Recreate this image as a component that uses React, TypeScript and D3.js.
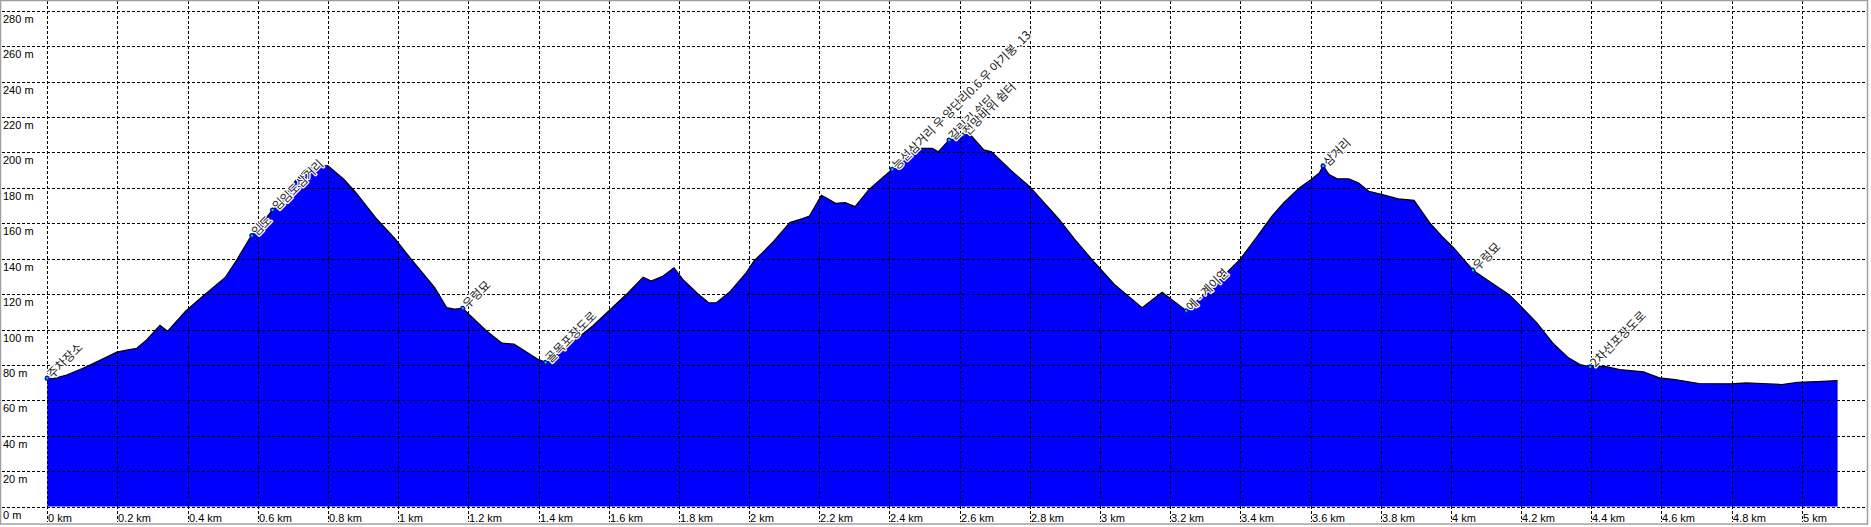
import React from "react";
import * as d3 from "d3";

const distanceKm = [
  0.0, 0.017, 0.055, 0.1, 0.141, 0.198, 0.226, 0.255, 0.283, 0.321, 0.343, 0.394, 0.439, 0.507, 0.541,
  0.575, 0.583, 0.642, 0.664, 0.699, 0.732, 0.755, 0.777, 0.8, 0.845, 0.879, 0.935, 0.992, 1.037, 1.104,
  1.138, 1.16, 1.184, 1.251, 1.296, 1.33, 1.397, 1.42, 1.442, 1.555, 1.656, 1.698, 1.721, 1.755, 1.786,
  1.811, 1.856, 1.885, 1.907, 1.947, 1.992, 2.014, 2.071, 2.116, 2.15, 2.172, 2.206, 2.223, 2.246, 2.274,
  2.302, 2.342, 2.408, 2.454, 2.488, 2.522, 2.539, 2.57, 2.609, 2.629, 2.669, 2.691, 2.748, 2.799, 2.883,
  2.928, 2.985, 3.041, 3.12, 3.177, 3.246, 3.312, 3.4, 3.445, 3.49, 3.523, 3.568, 3.602, 3.625, 3.636,
  3.653, 3.676, 3.709, 3.737, 3.766, 3.805, 3.85, 3.895, 3.94, 3.974, 4.008, 4.063, 4.109, 4.166, 4.199,
  4.245, 4.29, 4.335, 4.368, 4.397, 4.436, 4.481, 4.549, 4.594, 4.639, 4.707, 4.797, 4.842, 4.887, 4.943,
  4.988, 5.044, 5.102,
];
const elevationM = [
  72.5, 72.3, 74.3, 78.0, 81.8, 87.2, 88.4, 89.4, 94.1, 102.3, 99.0, 110.3, 118.1, 129.4, 139.7,
  151.0, 153.0, 167.5, 171.5, 182.1, 189.6, 192.5, 192.8, 192.5, 184.9, 177.4, 163.3, 151.0, 139.7, 123.7,
  112.4, 111.5, 112.0, 99.3, 92.3, 91.7, 83.3, 81.4, 84.2, 102.1, 120.9, 129.6, 127.4, 130.2, 134.9,
  128.3, 119.8, 115.1, 115.1, 121.7, 132.1, 138.7, 150.0, 160.4, 162.6, 164.1, 175.8, 174.0, 171.3, 171.7,
  169.4, 179.2, 190.5, 200.0, 202.3, 202.3, 200.4, 207.0, 209.8, 210.4, 201.5, 200.4, 189.6, 180.8, 162.3,
  150.9, 137.7, 125.5, 112.3, 121.1, 110.6, 122.6, 139.8, 151.8, 164.0, 171.5, 180.0, 184.7, 188.5, 192.4,
  187.5, 185.1, 185.1, 182.8, 178.1, 176.2, 173.8, 173.0, 160.2, 152.7, 146.1, 133.5, 127.3, 119.7, 113.2,
  103.7, 92.4, 84.0, 80.2, 78.9, 79.3, 77.4, 76.1, 72.7, 71.7, 69.5, 69.3, 69.8, 69.5, 68.9,
  70.2, 70.6, 71.2,
];

const waypointKm = [0.0, 0.583, 0.642, 0.664, 1.184, 1.42, 2.408, 2.57, 2.609, 3.246, 3.636, 4.063, 4.397];
const waypointNames = [
  "주차장소",
  "임도",
  "임도",
  "임도삼거리",
  "우렁묘",
  "골목포장도로",
  "능선삼거리 우 양단리0.6 우 아기봉 .13",
  "갈림길 쉼터",
  "전망바위 쉼터",
  "에 - 계이연",
  "삼거리",
  "우렁묘",
  "2차선포장도로",
];

const yTicks = d3.range(0, 281, 20);
const xTicks = d3.range(0, 26).map((i) => Math.round(i * 2) / 10);

const W = 1871;
const H = 527;

export default function App() {
  const x = d3.scaleLinear().domain([0, 5]).range([47.3, 1801.8]);
  const y = d3.scaleLinear().domain([0, 280]).range([506.5, 10.9]);

  const pts = distanceKm.map((d, i) => [d, elevationM[i]] as [number, number]);
  const area = d3
    .area<[number, number]>()
    .x((p) => x(p[0]))
    .y0(y(0))
    .y1((p) => y(p[1]));
  const line = d3
    .line<[number, number]>()
    .x((p) => x(p[0]))
    .y((p) => y(p[1]));

  const elevAt = (d: number) => {
    const i = d3.bisectLeft(distanceKm, d);
    if (i <= 0) return elevationM[0];
    if (i >= distanceKm.length) return elevationM[elevationM.length - 1];
    const d0 = distanceKm[i - 1], d1 = distanceKm[i];
    const t = (d - d0) / (d1 - d0);
    return elevationM[i - 1] + t * (elevationM[i] - elevationM[i - 1]);
  };

  const fmtKm = (v: number) => `${Math.round(v * 10) / 10} km`;

  return (
    <svg
      width={W}
      height={H}
      style={{ position: "absolute", left: 0, top: 0, display: "block", background: "#fff" }}
      fontFamily="'Liberation Sans', Arial, sans-serif"
    >
      <rect x={0} y={0} width={W} height={H} fill="#ffffff" />
      <path d={area(pts) || ""} fill="#0000ff" />
      <path d={line(pts) || ""} fill="none" stroke="#000" strokeWidth={1.2} />

      {yTicks.map((t) => (
        <line
          key={"h" + t}
          x1={2}
          x2={1867}
          y1={Math.round(y(t)) + 0.5}
          y2={Math.round(y(t)) + 0.5}
          stroke="#000"
          strokeWidth={1}
          strokeDasharray="3,2"
        />
      ))}
      {xTicks.map((t) => (
        <line
          key={"v" + t}
          x1={Math.round(x(t)) + 0.5}
          x2={Math.round(x(t)) + 0.5}
          y1={1}
          y2={522}
          stroke="#000"
          strokeWidth={1}
          strokeDasharray="3,2"
        />
      ))}

      <rect x={0.5} y={0.5} width={1867} height={523.5} fill="none" stroke="#a0a0a0" strokeWidth={1.5} />

      {yTicks.map((t) => (
        <text key={"yl" + t} x={3} y={Math.round(y(t)) + 12} fontSize={11} fill="#000">
          {`${t} m`}
        </text>
      ))}
      {xTicks.map((t) => (
        <text key={"xl" + t} x={Math.round(x(t)) + 1} y={522} fontSize={11} fill="#000">
          {fmtKm(t)}
        </text>
      ))}

      {waypointKm.map((d, i) => {
        const cx = x(d);
        const cy = y(elevAt(d));
        return (
          <g key={"wp" + i}>
            <circle cx={cx} cy={cy} r={2.6} fill="#0000ff" />
            <rect x={cx - 1} y={cy - 1} width={2} height={2} fill="#00ff00" />
          </g>
        );
      })}
      {waypointKm.map((d, i) => {
        const cx = x(d);
        const cy = y(elevAt(d));
        return (
          <text
            key={"wl" + i}
            transform={`translate(${cx + 5},${cy + 1}) rotate(-45)`}
            fontSize={12}
            fontFamily="'Noto Sans CJK KR', 'Noto Sans', sans-serif"
            fill="#1a1a1a"
            stroke="#ffffff"
            strokeWidth={2.5}
            strokeLinejoin="round"
            paintOrder="stroke"
          >
            {waypointNames[i]}
          </text>
        );
      })}
    </svg>
  );
}
